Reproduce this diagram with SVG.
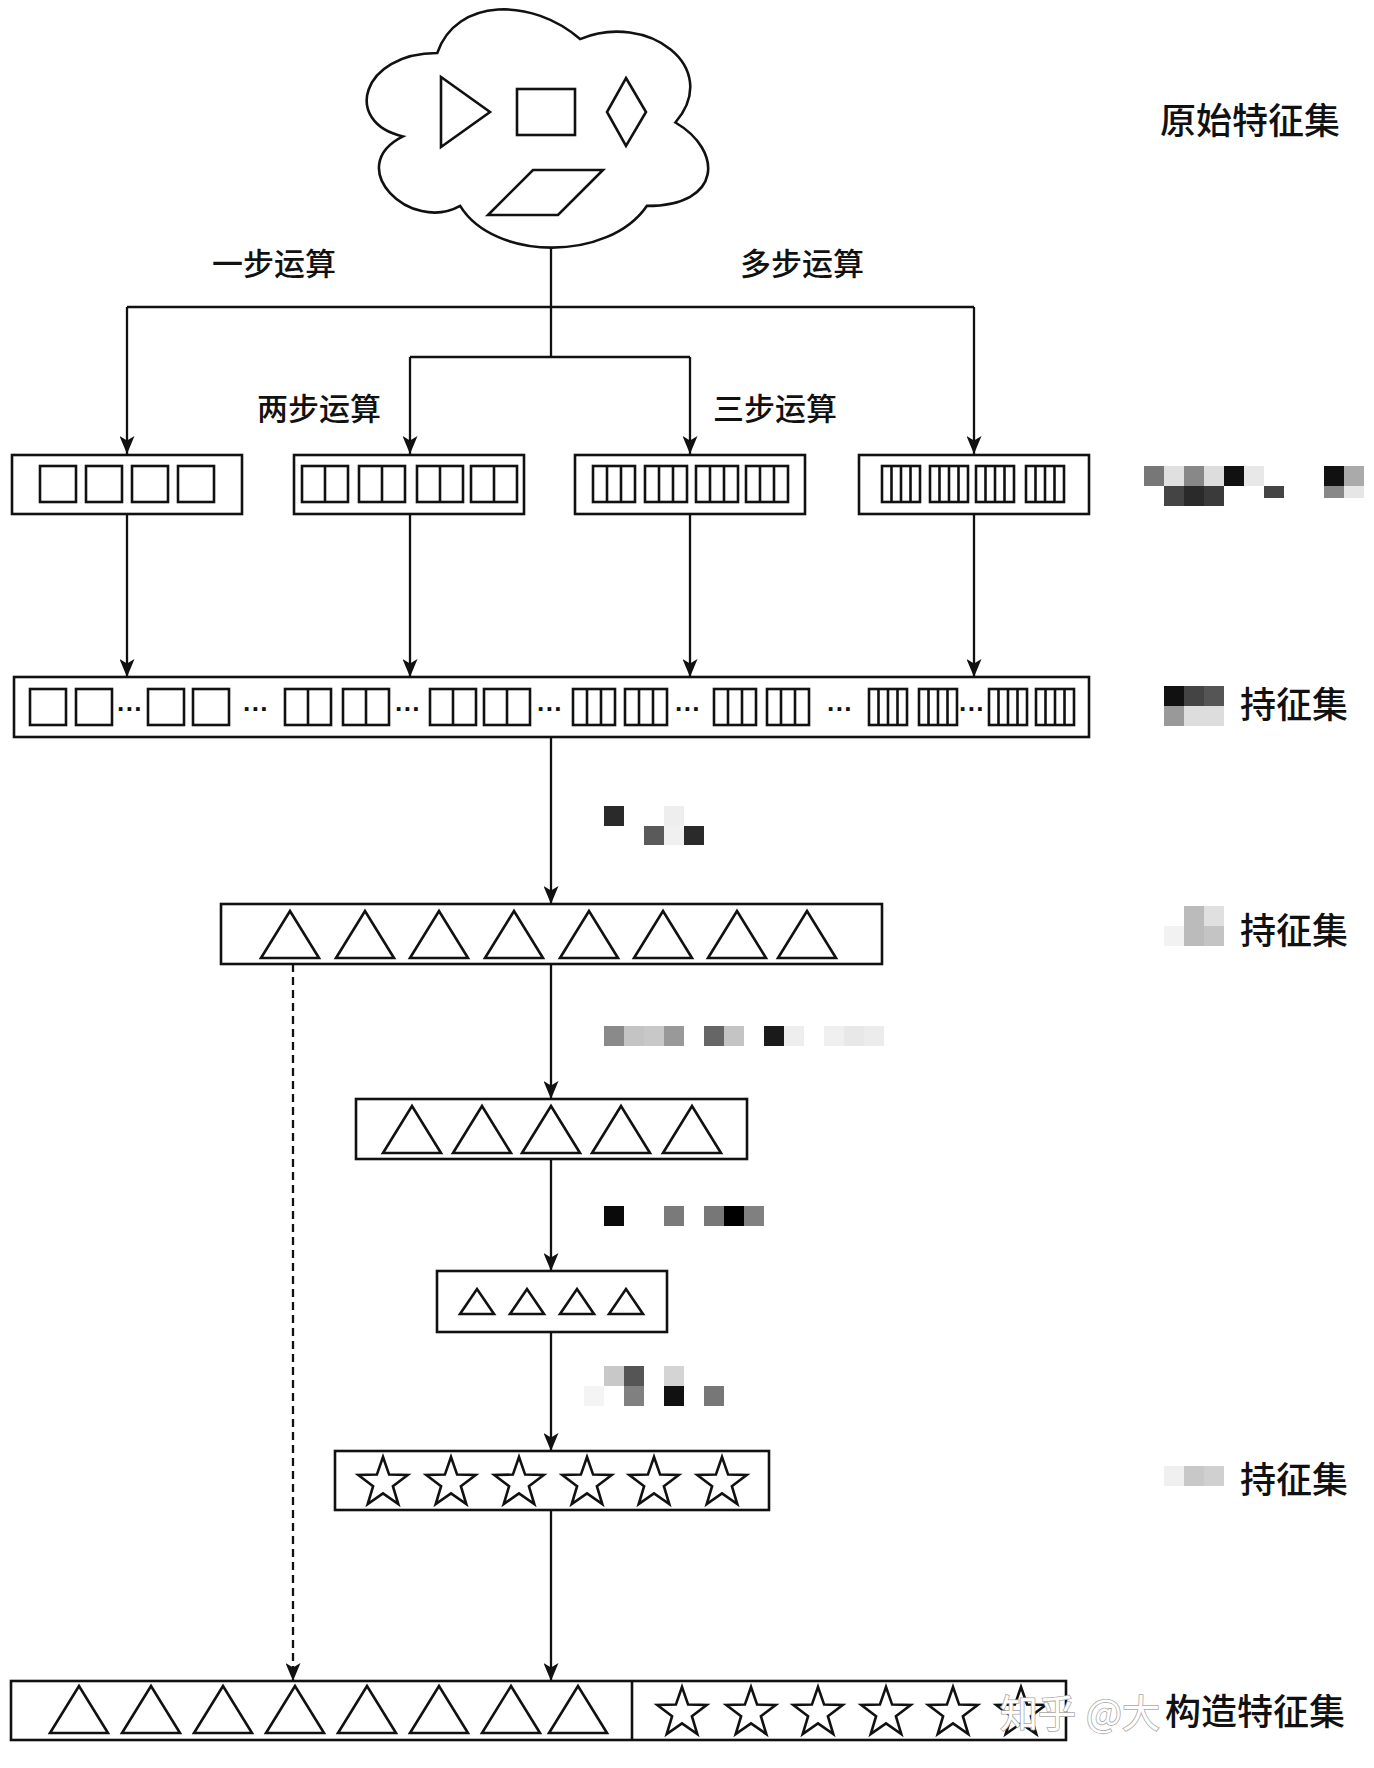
<svg xmlns="http://www.w3.org/2000/svg" xmlns:xlink="http://www.w3.org/1999/xlink" width="1374" height="1768" viewBox="0 0 1374 1768">
<style>
.box{fill:#fff;stroke:#111;stroke-width:2.6}
.shp{fill:none;stroke:#111;stroke-width:2.6;stroke-linejoin:miter}
.con{fill:none;stroke:#111;stroke-width:2.3}
.dash{fill:none;stroke:#111;stroke-width:2.3;stroke-dasharray:8 5}
.lbl{font-family:"Noto Sans CJK SC","Noto Sans",sans-serif;fill:#111;font-weight:500}
.s31{font-size:31px}
.s36{font-size:36px}
.dots{font-family:"Liberation Sans",Arial,sans-serif;font-size:26px;fill:#111;text-anchor:middle;font-weight:bold}
.wm{font-family:"Noto Sans CJK SC",sans-serif;font-size:38px;fill:#fff;stroke:#a8a8a8;stroke-width:1.6;paint-order:stroke}
</style>
<defs>
<marker id="arr" viewBox="0 0 18 15" refX="18" refY="7.5" markerWidth="18" markerHeight="15" markerUnits="userSpaceOnUse" orient="auto">
<path d="M0,0 L18,7.5 L0,15 L4.5,7.5 Z" fill="#111"/>
</marker>
<g id="c1"><rect class="shp" x="0" y="0" width="36" height="36"/></g>
<g id="c2"><rect class="shp" x="0" y="0" width="46" height="36"/><path class="shp" d="M23,0 V36"/></g>
<g id="c3"><rect class="shp" x="0" y="0" width="42" height="36"/><path class="shp" d="M14,0 V36 M28,0 V36"/></g>
<g id="c4"><rect class="shp" x="0" y="0" width="38" height="36"/><path class="shp" d="M9.5,0 V36 M19,0 V36 M28.5,0 V36"/></g>
<polygon id="tri" class="shp" points="0,47 29,0 58,47"/>
<polygon id="tris" class="shp" points="0,25 17,0 34,25"/>
<polygon id="star" class="shp" points="0,-26 6.11,-8.41 24.73,-8.03 9.89,3.21 15.28,21.03 0,10.4 -15.28,21.03 -9.89,3.21 -24.73,-8.03 -6.11,-8.41"/>
</defs>
<rect x="0" y="0" width="1374" height="1768" fill="#fff"/>

<g id="connectors">
<path class="con" d="M551,247 V357"/>
<path class="con" d="M127,307 H974"/>
<path class="con" d="M127,307 V454" marker-end="url(#arr)"/>
<path class="con" d="M974,307 V454" marker-end="url(#arr)"/>
<path class="con" d="M410,357 H690"/>
<path class="con" d="M410,357 V454" marker-end="url(#arr)"/>
<path class="con" d="M690,357 V454" marker-end="url(#arr)"/>
<path class="con" d="M127,514 V677" marker-end="url(#arr)"/>
<path class="con" d="M410,514 V677" marker-end="url(#arr)"/>
<path class="con" d="M690,514 V677" marker-end="url(#arr)"/>
<path class="con" d="M974,514 V677" marker-end="url(#arr)"/>
<path class="con" d="M551,737 V904" marker-end="url(#arr)"/>
<path class="con" d="M551,964 V1099" marker-end="url(#arr)"/>
<path class="con" d="M551,1159 V1271" marker-end="url(#arr)"/>
<path class="con" d="M551,1332 V1451" marker-end="url(#arr)"/>
<path class="con" d="M551,1510 V1681" marker-end="url(#arr)"/>
<path class="dash" d="M293,964 V1681" marker-end="url(#arr)"/>
</g>

<g id="cloud">
<path class="box" d="M437.25,53 C361.05,53 342,122.5 402.96,136.4 C342,167 410.58,233.7 460.11,205.9 C494.4,261.5 608.7,261.5 646.8,205.9 C723,205.9 723,150.3 675.4,122.5 C723,66.9 646.8,11.3 580.1,39.1 C532.5,-2.6 456.3,-2.6 437.25,53 Z"/>
<polygon class="shp" points="441,77 441,147 490,112"/>
<rect class="shp" x="517" y="89" width="58" height="46"/>
<polygon class="shp" points="626,78 646,112 626,146 607,112"/>
<polygon class="shp" points="533,170 603,170 558,215 488,215"/>
</g>

<g id="labels-steps">
<text class="lbl s31" x="212" y="275">一步运算</text>
<text class="lbl s31" x="740" y="275">多步运算</text>
<text class="lbl s31" x="257" y="420">两步运算</text>
<text class="lbl s31" x="713" y="420">三步运算</text>
</g>

<g id="box-1step">
<rect class="box" x="12" y="455" width="230" height="59"/>
<use href="#c1" x="40" y="466"/><use href="#c1" x="86" y="466"/><use href="#c1" x="132" y="466"/><use href="#c1" x="178" y="466"/>
</g>
<g id="box-2step">
<rect class="box" x="294" y="455" width="230" height="59"/>
<use href="#c2" x="302" y="466"/><use href="#c2" x="359" y="466"/><use href="#c2" x="417" y="466"/><use href="#c2" x="471" y="466"/>
</g>
<g id="box-3step">
<rect class="box" x="575" y="455" width="230" height="59"/>
<use href="#c3" x="593" y="466"/><use href="#c3" x="645" y="466"/><use href="#c3" x="696" y="466"/><use href="#c3" x="746" y="466"/>
</g>
<g id="box-multistep">
<rect class="box" x="859" y="455" width="230" height="59"/>
<use href="#c4" x="882" y="466"/><use href="#c4" x="930" y="466"/><use href="#c4" x="976" y="466"/><use href="#c4" x="1026" y="466"/>
</g>

<g id="box-all">
<rect class="box" x="14" y="677" width="1075" height="60"/>
<use href="#c1" x="30" y="689"/><use href="#c1" x="76" y="689"/>
<text class="dots" x="130" y="718">···</text>
<use href="#c1" x="148" y="689"/><use href="#c1" x="193" y="689"/>
<text class="dots" x="256" y="718">···</text>
<use href="#c2" x="285" y="689"/><use href="#c2" x="343" y="689"/>
<text class="dots" x="408" y="718">···</text>
<use href="#c2" x="430" y="689"/><use href="#c2" x="484" y="689"/>
<text class="dots" x="550" y="718">···</text>
<use href="#c3" x="573" y="689"/><use href="#c3" x="625" y="689"/>
<text class="dots" x="688" y="718">···</text>
<use href="#c3" x="714" y="689"/><use href="#c3" x="767" y="689"/>
<text class="dots" x="840" y="718">···</text>
<use href="#c4" x="869" y="689"/><use href="#c4" x="919" y="689"/>
<text class="dots" x="972" y="718">···</text>
<use href="#c4" x="989" y="689"/><use href="#c4" x="1036" y="689"/>
</g>

<g id="box-tri8">
<rect class="box" x="221" y="904" width="661" height="60"/>
<use href="#tri" x="261" y="911"/><use href="#tri" x="336" y="911"/><use href="#tri" x="410" y="911"/><use href="#tri" x="485" y="911"/>
<use href="#tri" x="560" y="911"/><use href="#tri" x="634" y="911"/><use href="#tri" x="708" y="911"/><use href="#tri" x="778" y="911"/>
</g>
<g id="box-tri5">
<rect class="box" x="356" y="1099" width="391" height="60"/>
<use href="#tri" x="383" y="1106"/><use href="#tri" x="453" y="1106"/><use href="#tri" x="522" y="1106"/><use href="#tri" x="592" y="1106"/><use href="#tri" x="663" y="1106"/>
</g>
<g id="box-tri4">
<rect class="box" x="437" y="1271" width="230" height="61"/>
<use href="#tris" x="460" y="1289"/><use href="#tris" x="510" y="1289"/><use href="#tris" x="560" y="1289"/><use href="#tris" x="609" y="1289"/>
</g>
<g id="box-star">
<rect class="box" x="335" y="1451" width="434" height="59"/>
<use href="#star" x="383" y="1483"/><use href="#star" x="451" y="1483"/><use href="#star" x="519" y="1483"/>
<use href="#star" x="587" y="1483"/><use href="#star" x="654" y="1483"/><use href="#star" x="722" y="1483"/>
</g>
<g id="box-final">
<rect class="box" x="11" y="1681" width="1055" height="59"/>
<path class="shp" d="M632,1681 V1740"/>
<use href="#tri" x="50" y="1686"/><use href="#tri" x="122" y="1686"/><use href="#tri" x="194" y="1686"/><use href="#tri" x="266" y="1686"/>
<use href="#tri" x="338" y="1686"/><use href="#tri" x="410" y="1686"/><use href="#tri" x="482" y="1686"/><use href="#tri" x="549" y="1686"/>
<use href="#star" x="682" y="1713"/><use href="#star" x="751" y="1713"/><use href="#star" x="818" y="1713"/>
<use href="#star" x="886" y="1713"/><use href="#star" x="953" y="1713"/><use href="#star" x="1021" y="1713"/>
</g>

<g id="labels-right">
<text class="lbl s36" x="1160" y="134">原始特征集</text>
<text class="lbl s36" x="1240" y="718">持征集</text>
<text class="lbl s36" x="1240" y="944">持征集</text>
<text class="lbl s36" x="1240" y="1493">持征集</text>
<text class="wm" x="1000" y="1727">知乎</text>
<text class="wm" x="1086" y="1727">@大</text>
<text class="lbl s36" x="1165" y="1725">构造特征集</text>
</g>

<g id="mosaics">
<rect x="1144" y="466" width="20" height="20" fill="#777"/>
<rect x="1164" y="466" width="20" height="20" fill="#e0e0e0"/>
<rect x="1184" y="466" width="20" height="20" fill="#888"/>
<rect x="1204" y="466" width="20" height="20" fill="#ddd"/>
<rect x="1224" y="466" width="20" height="20" fill="#111"/>
<rect x="1244" y="466" width="20" height="20" fill="#e8e8e8"/>
<rect x="1324" y="466" width="20" height="20" fill="#111"/>
<rect x="1344" y="466" width="20" height="20" fill="#aaa"/>
<rect x="1164" y="486" width="20" height="20" fill="#444"/>
<rect x="1184" y="486" width="20" height="20" fill="#2a2a2a"/>
<rect x="1204" y="486" width="20" height="20" fill="#3a3a3a"/>
<rect x="1264" y="486" width="20" height="12" fill="#444"/>
<rect x="1324" y="486" width="20" height="12" fill="#888"/>
<rect x="1344" y="486" width="20" height="12" fill="#e6e6e6"/>

<rect x="1164" y="686" width="20" height="20" fill="#111"/>
<rect x="1184" y="686" width="20" height="20" fill="#444"/>
<rect x="1204" y="686" width="20" height="20" fill="#555"/>
<rect x="1164" y="706" width="20" height="20" fill="#999"/>
<rect x="1184" y="706" width="20" height="20" fill="#ddd"/>
<rect x="1204" y="706" width="20" height="20" fill="#ddd"/>

<rect x="1184" y="906" width="20" height="20" fill="#bbb"/>
<rect x="1204" y="906" width="20" height="20" fill="#e0e0e0"/>
<rect x="1164" y="926" width="20" height="20" fill="#f2f2f2"/>
<rect x="1184" y="926" width="20" height="20" fill="#bbb"/>
<rect x="1204" y="926" width="20" height="20" fill="#c4c4c4"/>

<rect x="1164" y="1466" width="20" height="20" fill="#f0f0f0"/>
<rect x="1184" y="1466" width="20" height="20" fill="#c8c8c8"/>
<rect x="1204" y="1466" width="20" height="20" fill="#d0d0d0"/>

<rect x="604" y="806" width="20" height="20" fill="#2a2a2a"/>
<rect x="664" y="806" width="20" height="20" fill="#eee"/>
<rect x="644" y="826" width="20" height="19" fill="#5a5a5a"/>
<rect x="664" y="826" width="20" height="19" fill="#f0f0f0"/>
<rect x="684" y="826" width="20" height="19" fill="#2a2a2a"/>

<rect x="604" y="1026" width="20" height="20" fill="#8a8a8a"/>
<rect x="624" y="1026" width="20" height="20" fill="#c4c4c4"/>
<rect x="644" y="1026" width="20" height="20" fill="#c8c8c8"/>
<rect x="664" y="1026" width="20" height="20" fill="#999"/>
<rect x="704" y="1026" width="20" height="20" fill="#666"/>
<rect x="724" y="1026" width="20" height="20" fill="#c4c4c4"/>
<rect x="764" y="1026" width="20" height="20" fill="#1a1a1a"/>
<rect x="784" y="1026" width="20" height="20" fill="#eee"/>
<rect x="824" y="1026" width="20" height="20" fill="#f0f0f0"/>
<rect x="844" y="1026" width="20" height="20" fill="#e8e8e8"/>
<rect x="864" y="1026" width="20" height="20" fill="#ececec"/>

<rect x="604" y="1206" width="20" height="20" fill="#0a0a0a"/>
<rect x="664" y="1206" width="20" height="20" fill="#7a7a7a"/>
<rect x="704" y="1206" width="20" height="20" fill="#777"/>
<rect x="724" y="1206" width="20" height="20" fill="#000"/>
<rect x="744" y="1206" width="20" height="20" fill="#808080"/>

<rect x="604" y="1366" width="20" height="20" fill="#c8c8c8"/>
<rect x="624" y="1366" width="20" height="20" fill="#555"/>
<rect x="664" y="1366" width="20" height="20" fill="#d4d4d4"/>
<rect x="584" y="1386" width="20" height="20" fill="#f4f4f4"/>
<rect x="624" y="1386" width="20" height="20" fill="#808080"/>
<rect x="664" y="1386" width="20" height="20" fill="#111"/>
<rect x="704" y="1386" width="20" height="20" fill="#777"/>
</g>
</svg>
